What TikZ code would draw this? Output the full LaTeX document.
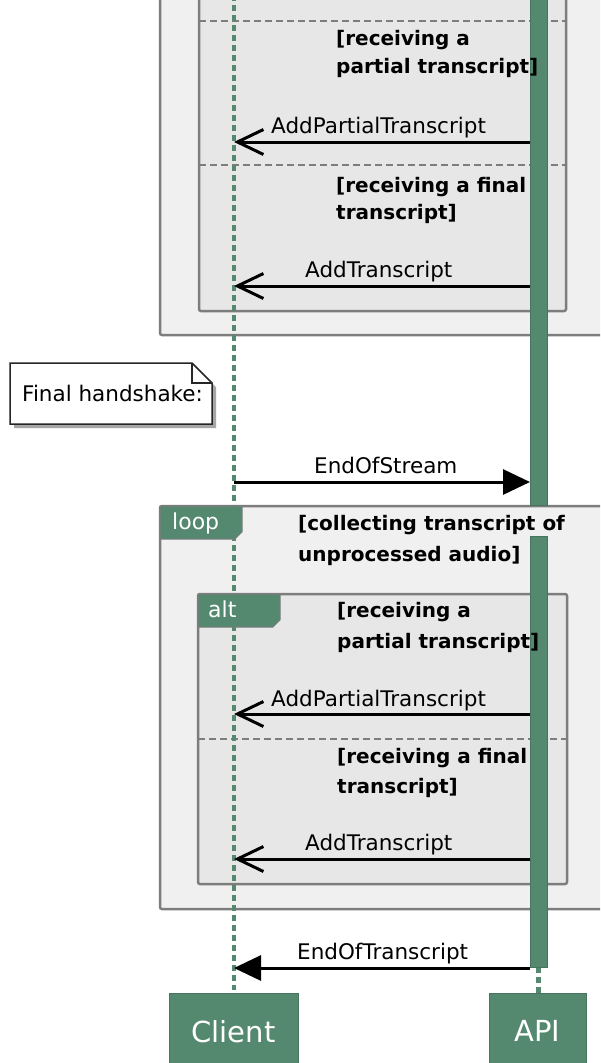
\documentclass[tikz,border=0pt]{standalone}
\usepackage{fontspec}
\setmainfont{DejaVu Sans}
\usetikzlibrary{arrows.meta}
\definecolor{pgreen}{RGB}{84,137,112}
\definecolor{frameline}{RGB}{125,125,125}
\definecolor{outerfill}{RGB}{240,240,240}
\definecolor{innerfill}{RGB}{231,231,231}
\definecolor{notefill}{RGB}{255,255,255}
\begin{document}
\begin{tikzpicture}[x=1pt,y=-1pt,
  frame/.style={draw=frameline,line width=2.5pt,rounded corners=2pt},
  outerbox/.style={frame,fill=outerfill},
  innerbox/.style={frame,fill=innerfill},
  sep/.style={draw=frameline,line width=2.2pt,dash pattern=on 7pt off 4pt},
  lifeline/.style={draw=pgreen,line width=4.5pt,dash pattern=on 6pt off 4pt},
  actbar/.style={fill=pgreen,draw=pgreen!85!black,line width=0.6pt},
  tab/.style={fill=pgreen,draw=frameline,line width=1pt},
  tabtext/.style={text=white,font=\fontsize{22}{26}\selectfont,anchor=base west,inner sep=0pt},
  cond/.style={font=\fontsize{20}{24}\selectfont\bfseries,anchor=base west,inner sep=0pt},
  msg/.style={font=\fontsize{21.5}{25}\selectfont,anchor=base west,inner sep=0pt},
  reply/.style={line width=3pt,-{Straight Barb[length=26pt,width=25pt,line width=3pt]}},
  call/.style={line width=3pt,-{Triangle[length=27pt,width=25pt]}},
  participant/.style={fill=pgreen,draw=pgreen!85!black,line width=0.6pt,text=white,
    font=\fontsize{29}{34}\selectfont,inner sep=0pt,anchor=north},
]
\useasboundingbox (0,0) rectangle (600,1063);
\clip (0,0) rectangle (600,1063);
\fill[white] (0,0) rectangle (600,1063);

% ---------- frames ----------
\path[outerbox] (160,-10) rectangle (612,335);
\path[innerbox] (199,-10) rectangle (566,311);
\path[sep] (199,21) -- (566,21);
\path[sep] (199,165) -- (566,165);

\path[outerbox] (160,506) rectangle (612,909);
\path[innerbox] (198,594) rectangle (567,884);
\path[sep] (198,739) -- (567,739);

% ---------- lifelines ----------
\coordinate (cliTop) at (234,-5);
\coordinate (cliBot) at (234,990);
\coordinate (apiLifeTop) at (538.5,967);
\coordinate (apiLifeBot) at (538.5,993);
\path[lifeline] (cliTop) -- (cliBot);
\path[lifeline] (apiLifeTop) -- (apiLifeBot);

% ---------- tabs ----------
\path[tab] (160,506) -- (242,506) -- (242,532) -- (235,539) -- (160,539) -- cycle;
\node[tabtext] (looplbl) at (172,529) {loop};
\path[tab] (198,594) -- (280,594) -- (280,620) -- (273,627) -- (198,627) -- cycle;
\node[tabtext] (altlbl) at (208,617) {alt};

% ---------- activation bars ----------
\path[actbar] (530,-5) rectangle (547,505);
\path[actbar] (530,536) rectangle (547,967);

% ---------- top (cut) alt ----------
\node[cond] (c1a) at (336,45) {[receiving a};
\node[cond] (c1b) at (336,73) {partial transcript]};
\node[msg] (m1) at (271,133) {AddPartialTranscript};
\coordinate (a1s) at (530,142); \coordinate (a1e) at (234,142);
\draw[reply] (a1s) -- (a1e);
\node[cond] (c2a) at (336,192) {[receiving a final};
\node[cond] (c2b) at (336,219) {transcript]};
\node[msg] (m2) at (305,277) {AddTranscript};
\coordinate (a2s) at (530,286); \coordinate (a2e) at (234,286);
\draw[reply] (a2s) -- (a2e);

% ---------- note ----------
\fill[black!35] (14,367) -- (196,367) -- (216,387) -- (216,428) -- (14,428) -- cycle;
\filldraw[fill=notefill,draw=black!85,line width=1.5pt]
  (10,363) -- (192,363) -- (212,383) -- (212,424) -- (10,424) -- cycle;
\draw[black!85,line width=1.2pt] (192,363) -- (192,383) -- (212,383);
\node[msg] (note) at (22,401) {Final handshake:};

% ---------- EndOfStream ----------
\node[msg] (m3) at (314,473) {EndOfStream};
\coordinate (a3s) at (234,482); \coordinate (a3e) at (530,482);
\draw[call] (a3s) -- (a3e);

% ---------- loop ----------
\node[cond] (c3a) at (298,530) {[collecting transcript of};
\node[cond] (c3b) at (298,561) {unprocessed audio]};

\node[cond] (c4a) at (337,617) {[receiving a};
\node[cond] (c4b) at (337,648) {partial transcript]};
\node[msg] (m4) at (271,706) {AddPartialTranscript};
\coordinate (a4s) at (530,714); \coordinate (a4e) at (234,714);
\draw[reply] (a4s) -- (a4e);
\node[cond] (c5a) at (337,763) {[receiving a final};
\node[cond] (c5b) at (337,793) {transcript]};
\node[msg] (m5) at (305,850) {AddTranscript};
\coordinate (a5s) at (530,859); \coordinate (a5e) at (234,859);
\draw[reply] (a5s) -- (a5e);

% ---------- EndOfTranscript ----------
\node[msg] (m6) at (297,959) {EndOfTranscript};
\coordinate (a6s) at (530,968); \coordinate (a6e) at (234,968);
\draw[call] (a6s) -- (a6e);

% ---------- participants ----------
\node[participant,minimum width=129pt,minimum height=76pt] (Client) at (233.5,993) {Client};
\node[participant,minimum width=97pt,minimum height=76pt] (API) at (537.5,993) {API};
\end{tikzpicture}
\end{document}
